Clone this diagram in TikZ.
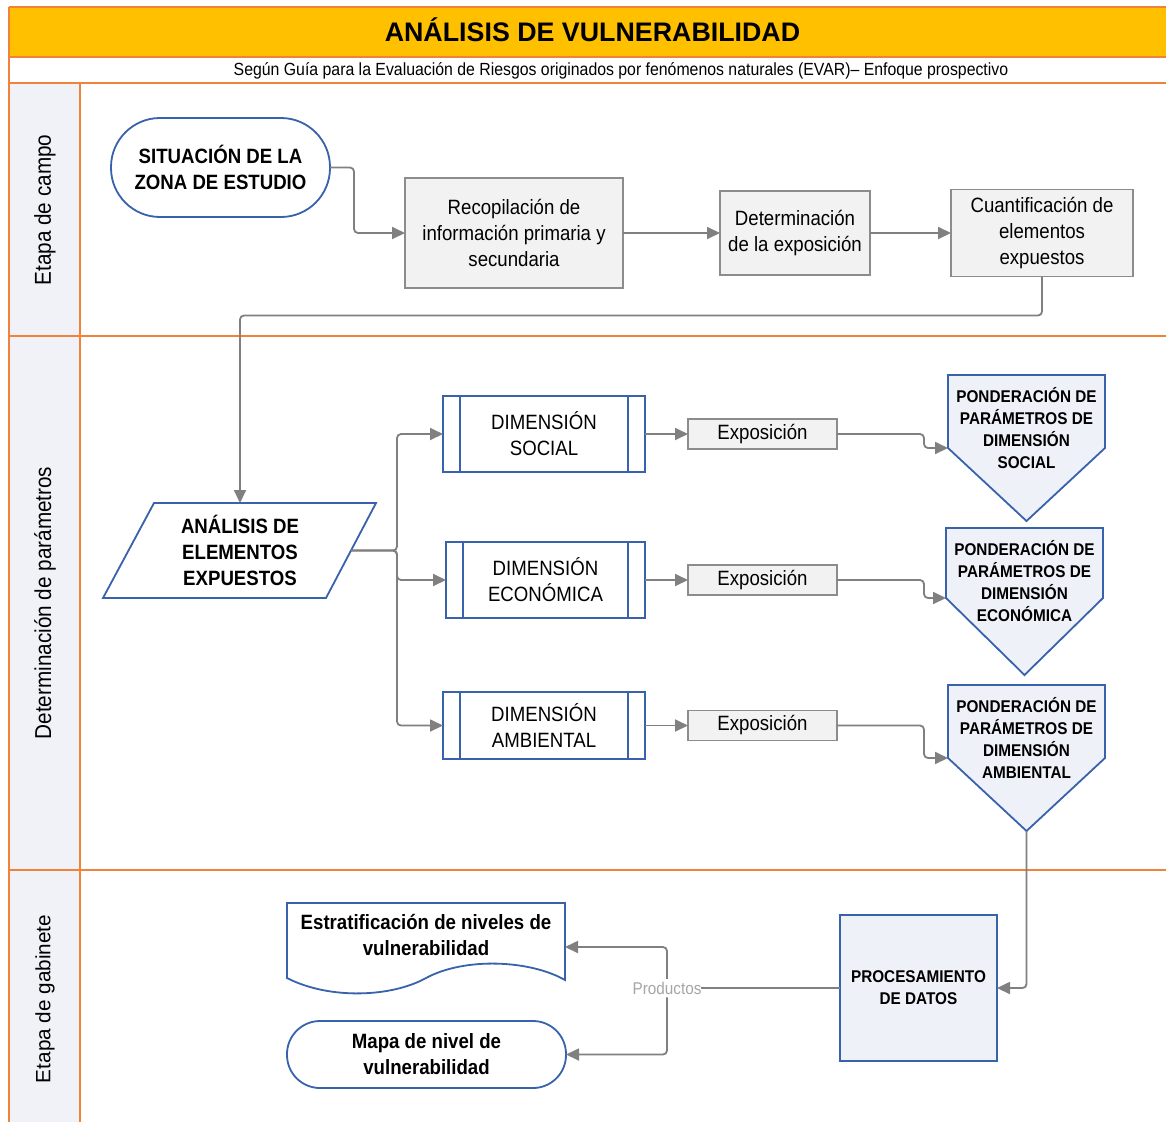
\documentclass[tikz,border=0pt]{standalone}
\usepackage{fontspec}
\setmainfont{Liberation Sans}
\newfontfamily\nar[FakeStretch=0.9]{Liberation Sans}
\usetikzlibrary{arrows.meta}
\definecolor{yel}{HTML}{FFC000}
\definecolor{ora}{HTML}{F0823A}
\definecolor{lanefill}{HTML}{F1F2F8}
\definecolor{blu}{HTML}{3862AC}
\definecolor{gboxfill}{HTML}{F2F2F2}
\definecolor{gline}{HTML}{8C8C8C}
\definecolor{pentfill}{HTML}{EFF1F8}
\definecolor{conncol}{HTML}{808080}
\definecolor{prodcol}{HTML}{A6A6A6}
\tikzset{
 every node/.style={inner sep=0pt, outer sep=0pt},
 frameline/.style={draw=ora, line width=2.4pt},
 conn/.style={draw=conncol, line width=1.8pt, rounded corners=4pt, -{Triangle[length=13pt,width=12pt]}},
 connplain/.style={draw=conncol, line width=1.8pt, rounded corners=4pt},
 bigtxt/.style={font=\nar\fontsize{20.7}{26}\selectfont, align=center},
 bigbold/.style={font=\nar\bfseries\fontsize{20.7}{26}\selectfont, align=center},
 smallbold/.style={font=\nar\bfseries\fontsize{17}{22}\selectfont, align=center},
 greybox/.style={bigtxt, draw=gline, fill=gboxfill, line width=1.8pt},
 bluline/.style={draw=blu, line width=1.8pt},
 dimbox/.style={bigtxt, bluline, fill=white,
   path picture={\draw[blu, line width=1.8pt]
     ([xshift=17pt]path picture bounding box.north west) -- ([xshift=17pt]path picture bounding box.south west)
     ([xshift=-17pt]path picture bounding box.north east) -- ([xshift=-17pt]path picture bounding box.south east);}},
 lanelabel/.style={rotate=90, font=\nar\fontsize{23}{26}\selectfont},
}
\newcommand\ponder[7]{%
 \draw[bluline, fill=pentfill] (#2,#4) -- (#3,#4) -- (#3,#5) -- ({(#2+#3)/2},#6) -- (#2,#5) -- cycle;
 \coordinate (#1w) at (#2,#5);
 \coordinate (#1s) at ({(#2+#3)/2},#6);
 \node[smallbold] (#1) at ({(#2+#3)/2},{#4+53}) {#7};
}
\begin{document}
\begin{tikzpicture}[x=1pt,y=-1pt]
\useasboundingbox (0,0) rectangle (1166,1122);
\fill[white] (0,0) rectangle (1166,1122);
% frame
\fill[yel] (9,7) rectangle (1166,57);
\fill[lanefill] (9,83) rectangle (80,1122);
\draw[frameline] (9,7) -- (1166,7);
\draw[frameline] (9,57) -- (1166,57);
\draw[frameline] (9,83) -- (1166,83);
\draw[frameline] (9,336) -- (1166,336);
\draw[frameline] (9,870) -- (1166,870);
\draw[frameline] (9,7) -- (9,1122);
\draw[frameline] (80,83) -- (80,1122);
\node[font=\bfseries\fontsize{26.8}{30}\selectfont] (title) at (592.5,30) {ANÁLISIS DE VULNERABILIDAD};
\node[font=\nar\fontsize{17.6}{20}\selectfont] (sub) at (621,71) {Según Guía para la Evaluación de Riesgos originados por fenómenos naturales (EVAR)– Enfoque prospectivo};
\node[lanelabel] (l1) at (45,210) {Etapa de campo};
\node[lanelabel] (l2) at (45,603) {Determinación de parámetros};
\node[rotate=90, font=\fontsize{20.7}{26}\selectfont] (l3) at (45,999) {Etapa de gabinete};
% lane 1
\node[bigbold, bluline, fill=white, minimum width=219pt, minimum height=99pt, rounded corners=49pt] (sit) at (220.5,167.5) {SITUACIÓN DE LA\\ZONA DE ESTUDIO};
\node[greybox, minimum width=218pt, minimum height=110pt] (rec) at (514,233) {Recopilación de\\información primaria y\\secundaria};
\node[greybox, minimum width=150pt, minimum height=84pt] (det) at (795,233) {Determinación\\de la exposición};
\node[greybox, minimum width=182pt, minimum height=87pt] (cua) at (1042,233) {Cuantificación de\\elementos\\expuestos};
\draw[conn] (sit.east) -- ++(24,0) |- (rec.west);
\draw[conn] (rec.east) -- (det.west);
\draw[conn] (det.east) -- (cua.west);
% lane 2
\draw[bluline, fill=white] (154,503) -- (376,503) -- (326,598) -- (103,598) -- cycle;
\node[bigbold, minimum width=180pt, minimum height=95pt] (ana) at (240,550.5) {ANÁLISIS DE\\ELEMENTOS\\EXPUESTOS};
\coordinate (anaR) at (351,550.5);
\draw[conn] (cua.south) -- ++(0,39) -| (ana.north);
\node[dimbox, minimum width=202pt, minimum height=76pt] (d1) at (544,434) {DIMENSIÓN\\SOCIAL};
\node[dimbox, minimum width=199pt, minimum height=76pt] (d2) at (545.5,580) {DIMENSIÓN\\ECONÓMICA};
\node[dimbox, minimum width=202pt, minimum height=67pt] (d3) at (544,725.5) {DIMENSIÓN\\AMBIENTAL};
\draw[conn] (anaR) -- (397,550.5) |- (d1.west);
\draw[conn] (anaR) -- (397,550.5) |- (d2.west);
\draw[conn] (anaR) -- (397,550.5) |- (d3.west);
\node[greybox, minimum width=149pt, minimum height=30pt] (e1) at (762.5,434) {Exposición};
\node[greybox, minimum width=149pt, minimum height=30pt] (e2) at (762.5,580) {Exposición};
\node[greybox, minimum width=149pt, minimum height=30pt] (e3) at (762.5,725.5) {Exposición};
\draw[conn] (d1.east) -- (e1.west);
\draw[conn] (d2.east) -- (e2.west);
\draw[conn] (d3.east) -- (e3.west);
\ponder{p1}{948}{1105}{375}{448}{521}{PONDERACIÓN DE\\PARÁMETROS DE\\DIMENSIÓN\\SOCIAL}
\ponder{p2}{946}{1103}{528}{598}{675}{PONDERACIÓN DE\\PARÁMETROS DE\\DIMENSIÓN\\ECONÓMICA}
\ponder{p3}{948}{1105}{685}{758}{831}{PONDERACIÓN DE\\PARÁMETROS DE\\DIMENSIÓN\\AMBIENTAL}
\draw[conn] (e1.east) -- ++(87,0) |- (p1w);
\draw[conn] (e2.east) -- ++(87,0) |- (p2w);
\draw[conn] (e3.east) -- ++(87,0) |- (p3w);
% lane 3
\node[smallbold, bluline, fill=pentfill, minimum width=157pt, minimum height=146pt] (proc) at (918.5,988) {PROCESAMIENTO\\DE DATOS};
\draw[conn] (p3s) |- (proc.east);
\draw[bluline, fill=white] (287,903) -- (565,903) -- (565,980) .. controls (530,960) and (465,957) .. (426,978) .. controls (392,997) and (330,1000) .. (287,978) -- cycle;
\node[minimum width=278pt, minimum height=88pt] (est) at (426,947) {};
\node[bigbold] (esttxt) at (426,935) {Estratificación de niveles de\\vulnerabilidad};
\node[bigbold, bluline, fill=white, minimum width=279pt, minimum height=67pt, rounded corners=33pt] (map) at (426.5,1054.5) {Mapa de nivel de\\vulnerabilidad};
\node[font=\nar\fontsize{17}{20}\selectfont, text=prodcol, fill=white, inner ysep=3pt] (prod) at (667,988) {Productos};
\draw[connplain] (proc.west) -- (prod.east);
\draw[conn] (prod.north) |- (est.east);
\draw[conn] (prod.south) |- (map.east);
\end{tikzpicture}
\end{document}
